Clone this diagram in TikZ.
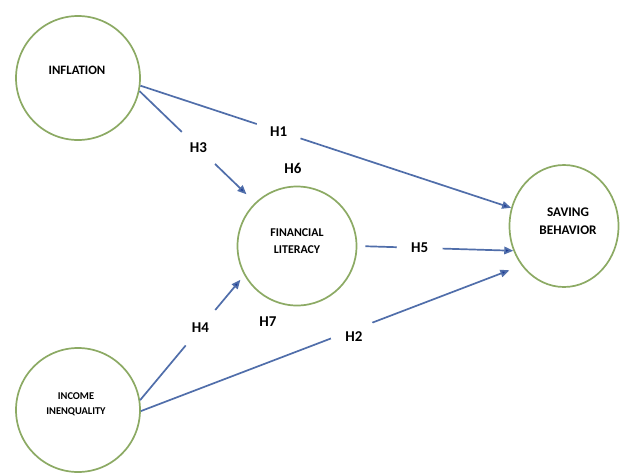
\documentclass[tikz,border=0pt]{standalone}
\usepackage{fontspec}
\setmainfont{Carlito}
\usetikzlibrary{arrows.meta,shapes.geometric}
\definecolor{circgreen}{RGB}{140,170,100}
\definecolor{linkblue}{RGB}{80,110,170}
\definecolor{tipblue}{RGB}{30,60,150}
\tikzset{
  circ/.style={draw=circgreen, line width=1.7pt, circle, inner sep=0pt},
  ovalbox/.style={draw=circgreen, line width=1.7pt, ellipse, inner sep=0pt},
  ctext/.style={align=center, inner sep=0pt},
  arr/.style={draw=linkblue, line width=1.7pt, -{Triangle[length=9pt,width=7.5pt,fill=tipblue]}},
  lbl/.style={font=\bfseries\fontsize{15}{17}\selectfont, fill=white, circle, minimum size=46pt, inner sep=0pt},
  free/.style={font=\bfseries\fontsize{15}{17}\selectfont, inner sep=0pt}
}
\begin{document}
\begin{tikzpicture}[x=1pt,y=-1pt]
\useasboundingbox[fill=white] (0,0) rectangle (620,472);
\clip (0,0) rectangle (620,472);
% circles
\node[circ, minimum size=124pt] (infl) at (78,78) {};
\node[circ, minimum size=119pt] (fin) at (297,246) {};
\node[ovalbox, minimum width=109pt, minimum height=122pt] (sav) at (564,226) {};
\node[circ, minimum size=124pt] (inc) at (78,410) {};
% circle texts
\node[ctext, font=\bfseries\fontsize{12.8}{16}\selectfont] (tinfl) at (77,70) {INFLATION};
\node[ctext, font=\bfseries\fontsize{11.9}{17}\selectfont] (tfin) at (297,241) {FINANCIAL\\LITERACY};
\node[ctext, font=\bfseries\fontsize{13.2}{18.5}\selectfont] (tsav) at (568,221) {SAVING\\BEHAVIOR};
\node[ctext, font=\bfseries\fontsize{10.4}{15}\selectfont] (tinc) at (76,404) {INCOME\\INENQUALITY};
% connectors
\draw[arr] (infl.-7) -- node[lbl, pos=0.373] (h1) {H1} (sav.161);
\draw[arr, shorten >=12pt] (infl.-12) -- node[lbl, pos=0.51] (h3) {H3} (fin.134);
\draw[arr, shorten <=8pt] (fin.0) -- node[lbl, pos=0.40] (h5) {H5} (sav.206);
\draw[arr, shorten >=13pt] (inc.-1) -- node[lbl, pos=0.56, yshift=-7pt] (h2) {H2} (sav.223);
\draw[arr, shorten >=6pt] (inc.9) -- node[lbl, pos=0.58] (h4) {H4} (fin.209);
% free labels
\node[free] (h6) at (293,168) {H6};
\node[free] (h7) at (268,322) {H7};
\end{tikzpicture}
\end{document}
